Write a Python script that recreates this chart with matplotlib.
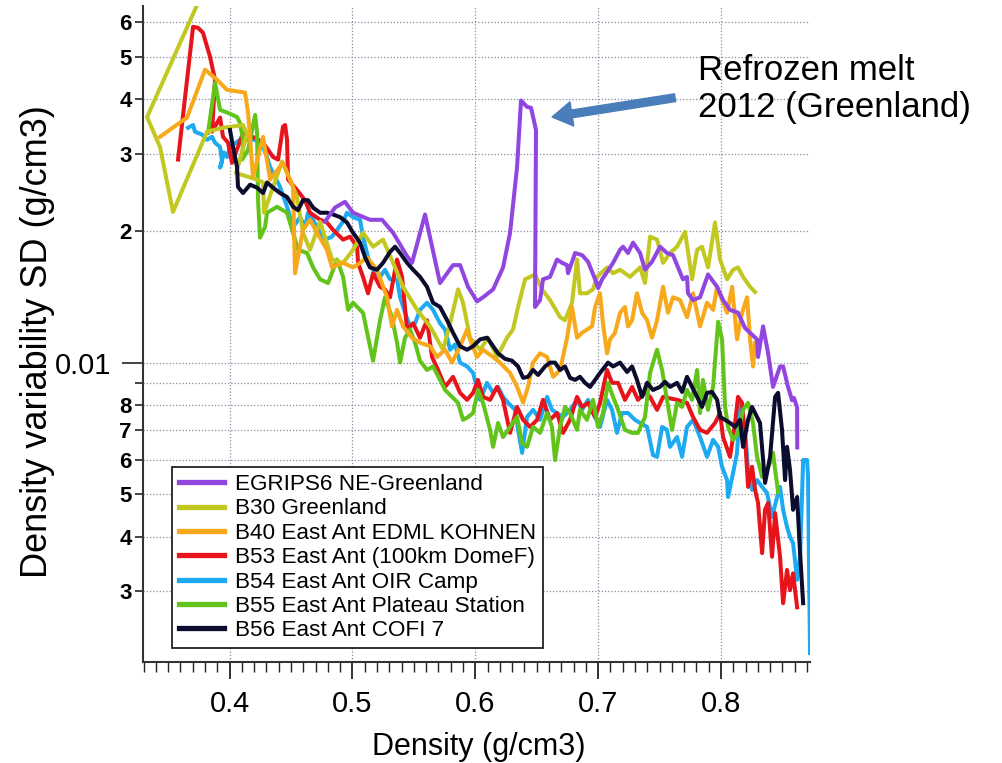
import math
import matplotlib
matplotlib.use("Agg")
from matplotlib import pyplot as plt
from matplotlib.ticker import FixedLocator, FuncFormatter, MultipleLocator

plt.rcParams['font.family'] = ['Liberation Sans', 'DejaVu Sans']

# density (g/cm3) and density variability SD (g/cm3) for each core
egrips_rho = [0.4777, 0.4858, 0.4939, 0.5005, 0.5143, 0.5241, 0.5331, 0.5445, 0.5485, 0.5591,
              0.5713, 0.5819, 0.5876, 0.5941, 0.6014, 0.6063, 0.6145, 0.6226, 0.6283, 0.6340,
              0.6372, 0.6421, 0.6454, 0.6494, 0.6486, 0.6527, 0.6551, 0.6608, 0.6665, 0.6706,
              0.6747, 0.6755, 0.6812, 0.6869, 0.6918, 0.6975, 0.7000, 0.7032, 0.7072, 0.7121,
              0.7178, 0.7202, 0.7243, 0.7284, 0.7341, 0.7381, 0.7438, 0.7503, 0.7560, 0.7609,
              0.7690, 0.7723, 0.7731, 0.7772, 0.7829, 0.7894, 0.7968, 0.8016, 0.8073, 0.8138,
              0.8195, 0.8236, 0.8293, 0.8301, 0.8342, 0.8383, 0.8423, 0.8480, 0.8505, 0.8545,
              0.8578, 0.8594, 0.8619, 0.8620]
egrips_sd = [0.0210, 0.0226, 0.0233, 0.0220, 0.0212, 0.0212, 0.0198, 0.0175, 0.0169, 0.0218,
             0.0152, 0.0167, 0.0167, 0.0149, 0.0138, 0.0141, 0.0147, 0.0165, 0.0198, 0.0280,
             0.0397, 0.0384, 0.0382, 0.0340, 0.0134, 0.0139, 0.0155, 0.0157, 0.0172, 0.0169,
             0.0167, 0.0160, 0.0178, 0.0176, 0.0170, 0.0155, 0.0148, 0.0155, 0.0161, 0.0169,
             0.0181, 0.0184, 0.0178, 0.0188, 0.0178, 0.0163, 0.0170, 0.0184, 0.0178, 0.0176,
             0.0155, 0.0157, 0.0144, 0.0139, 0.0141, 0.0159, 0.0149, 0.0139, 0.0132, 0.0130,
             0.0120, 0.0117, 0.0113, 0.0103, 0.0121, 0.0105, 0.0088, 0.0098, 0.0098, 0.0088,
             0.0082, 0.0083, 0.0079, 0.0064]

b30_rho = [0.3760, 0.3329, 0.3434, 0.3540, 0.3817, 0.3947, 0.4110, 0.4142, 0.4053, 0.4224,
           0.4273, 0.4281, 0.4427, 0.4492, 0.4549, 0.4598, 0.4655, 0.4737, 0.4834, 0.4924,
           0.5005, 0.5086, 0.5168, 0.5249, 0.5331, 0.5412, 0.5526, 0.5632, 0.5738, 0.5795,
           0.5860, 0.5900, 0.5957, 0.6039, 0.6104, 0.6177, 0.6258, 0.6307, 0.6348, 0.6405,
           0.6486, 0.6543, 0.6608, 0.6690, 0.6730, 0.6787, 0.6828, 0.6852, 0.6909, 0.6958,
           0.6991, 0.7072, 0.7121, 0.7178, 0.7259, 0.7341, 0.7381, 0.7422, 0.7479, 0.7528,
           0.7585, 0.7642, 0.7707, 0.7764, 0.7805, 0.7845, 0.7894, 0.7951, 0.7992, 0.8049,
           0.8098, 0.8138, 0.8179, 0.8236, 0.8277]
b30_sd = [0.068, 0.0364, 0.0311, 0.0221, 0.0337, 0.0344, 0.0349, 0.0332, 0.0271, 0.0262,
          0.0258, 0.0220, 0.0288, 0.0262, 0.0239, 0.0198, 0.0181, 0.0210, 0.0172, 0.0169,
          0.0181, 0.0198, 0.0184, 0.0191, 0.0169, 0.0149, 0.0132, 0.0121, 0.0107, 0.0123,
          0.0147, 0.0137, 0.0114, 0.0107, 0.0114, 0.0103, 0.0114, 0.0119, 0.0134, 0.0155,
          0.0159, 0.0147, 0.0139, 0.0127, 0.0125, 0.0137, 0.0172, 0.0144, 0.0144, 0.0147,
          0.0157, 0.0165, 0.0160, 0.0163, 0.0157, 0.0165, 0.0152, 0.0194, 0.0191, 0.0169,
          0.0178, 0.0184, 0.0199, 0.0155, 0.0181, 0.0184, 0.0165, 0.0209, 0.0172, 0.0155,
          0.0163, 0.0165, 0.0157, 0.0149, 0.0145]

b40_rho = [0.3434, 0.3654, 0.3801, 0.3898, 0.3980, 0.4126, 0.4151, 0.4191, 0.4273, 0.4330,
           0.4435, 0.4517, 0.4533, 0.4598, 0.4655, 0.4712, 0.4793, 0.4834, 0.4924, 0.5005,
           0.5062, 0.5119, 0.5200, 0.5282, 0.5322, 0.5363, 0.5412, 0.5485, 0.5550, 0.5632,
           0.5689, 0.5754, 0.5811, 0.5876, 0.5933, 0.5957, 0.6014, 0.6063, 0.6145, 0.6201,
           0.6283, 0.6340, 0.6389, 0.6429, 0.6470, 0.6527, 0.6584, 0.6633, 0.6690, 0.6747,
           0.6787, 0.6828, 0.6869, 0.6909, 0.6950, 0.6975, 0.7015, 0.7039, 0.7072, 0.7097,
           0.7137, 0.7178, 0.7218, 0.7243, 0.7276, 0.7316, 0.7357, 0.7398, 0.7438, 0.7479,
           0.7528, 0.7568, 0.7609, 0.7666, 0.7723, 0.7772, 0.7829, 0.7886, 0.7935, 0.7968,
           0.8008, 0.8049, 0.8090, 0.8130, 0.8171, 0.8212, 0.8236, 0.8260, 0.8277]
b40_sd = [0.0328, 0.0363, 0.0467, 0.0443, 0.0420, 0.0414, 0.0372, 0.0266, 0.0328, 0.0262,
          0.0286, 0.0252, 0.0160, 0.0201, 0.0212, 0.0198, 0.0181, 0.0165, 0.0169, 0.0165,
          0.0169, 0.0174, 0.0163, 0.0141, 0.0121, 0.0132, 0.0121, 0.0114, 0.0111, 0.0109,
          0.0103, 0.0107, 0.0100, 0.0109, 0.0119, 0.0113, 0.0103, 0.0107, 0.0103, 0.0100,
          0.00947, 0.0088, 0.0081, 0.0088, 0.0100, 0.0105, 0.0103, 0.00928, 0.00962, 0.0114,
          0.0134, 0.0114, 0.0117, 0.0119, 0.0121, 0.0134, 0.0144, 0.0123, 0.0105, 0.0113,
          0.0117, 0.0130, 0.0134, 0.0121, 0.0125, 0.0144, 0.0130, 0.0125, 0.0114, 0.0125,
          0.0149, 0.0130, 0.0141, 0.0139, 0.0127, 0.0144, 0.0121, 0.0137, 0.0132, 0.0149,
          0.0139, 0.0130, 0.0149, 0.0113, 0.0130, 0.0141, 0.0113, 0.0098, 0.0111]

b53_rho = [0.3581, 0.3703, 0.3744, 0.3784, 0.3841, 0.3882, 0.3858, 0.3923, 0.3947, 0.3988,
           0.4020, 0.4110, 0.4208, 0.4273, 0.4354, 0.4395, 0.4435, 0.4452, 0.4468, 0.4476,
           0.4549, 0.4614, 0.4655, 0.4737, 0.4793, 0.4842, 0.4924, 0.4981, 0.5038, 0.5046,
           0.5086, 0.5127, 0.5168, 0.5225, 0.5265, 0.5306, 0.5363, 0.5404, 0.5445, 0.5494,
           0.5550, 0.5607, 0.5648, 0.5697, 0.5754, 0.5819, 0.5876, 0.5933, 0.5982, 0.6022,
           0.6063, 0.6120, 0.6177, 0.6226, 0.6283, 0.6340, 0.6389, 0.6446, 0.6503, 0.6551,
           0.6608, 0.6665, 0.6714, 0.6771, 0.6828, 0.6869, 0.6918, 0.6975, 0.7015, 0.7072,
           0.7113, 0.7162, 0.7218, 0.7276, 0.7324, 0.7381, 0.7422, 0.7479, 0.7528, 0.7642,
           0.7723, 0.7772, 0.7829, 0.7886, 0.7951, 0.7992, 0.8016, 0.8073, 0.8114, 0.8138,
           0.8171, 0.8195, 0.8220, 0.8252, 0.8277, 0.8301, 0.8334, 0.8358, 0.8383, 0.8415,
           0.8440, 0.8480, 0.8505, 0.8537, 0.8561, 0.8586, 0.8619]
b53_sd = [0.0291, 0.0585, 0.0582, 0.0567, 0.0500, 0.0443, 0.0337, 0.0363, 0.0328, 0.0318,
          0.0286, 0.0335, 0.0326, 0.0318, 0.0295, 0.0291, 0.0346, 0.0349, 0.0323, 0.0262,
          0.0248, 0.0235, 0.0220, 0.0212, 0.0209, 0.0201, 0.0191, 0.0194, 0.0184, 0.0169,
          0.0157, 0.0144, 0.0160, 0.0149, 0.0147, 0.0141, 0.0172, 0.0157, 0.0119, 0.0123,
          0.0114, 0.0125, 0.0103, 0.00962, 0.0088, 0.00928, 0.00853, 0.00822, 0.00853, 0.00913,
          0.00835, 0.00822, 0.0088, 0.00822, 0.00691, 0.00792, 0.0074, 0.00713, 0.0074, 0.00822,
          0.0074, 0.00767, 0.00691, 0.0074, 0.00835, 0.00792, 0.00809, 0.00751, 0.00809, 0.00962,
          0.00899, 0.00899, 0.00822, 0.0088, 0.00822, 0.00853, 0.00835, 0.0078, 0.00835, 0.00822,
          0.00809, 0.00751, 0.00702, 0.00691, 0.00728, 0.00767, 0.00676, 0.00609, 0.00728, 0.00835,
          0.00809, 0.00676, 0.0052, 0.00578, 0.00512, 0.00478, 0.00367, 0.00461, 0.00478, 0.0036,
          0.00453, 0.0036, 0.00282, 0.00336, 0.00302, 0.0033, 0.00276]

b54_rho = [0.3662, 0.3703, 0.3719, 0.3776, 0.3817, 0.3858, 0.3882, 0.3923, 0.3939, 0.3923,
           0.3955, 0.3980, 0.4004, 0.4085, 0.4142, 0.4208, 0.4273, 0.4305, 0.4330, 0.4411,
           0.4468, 0.4517, 0.4574, 0.4614, 0.4639, 0.4680, 0.4737, 0.4777, 0.4834, 0.4875,
           0.4924, 0.4956, 0.5005, 0.5062, 0.5086, 0.5127, 0.5168, 0.5225, 0.5265, 0.5306,
           0.5363, 0.5388, 0.5428, 0.5469, 0.5510, 0.5550, 0.5607, 0.5656, 0.5713, 0.5754,
           0.5795, 0.5835, 0.5876, 0.5933, 0.5982, 0.6039, 0.6096, 0.6145, 0.6185, 0.6226,
           0.6267, 0.6324, 0.6348, 0.6381, 0.6421, 0.6470, 0.6527, 0.6584, 0.6624, 0.6665,
           0.6714, 0.6771, 0.6828, 0.6869, 0.6918, 0.6958, 0.7015, 0.7072, 0.7113, 0.7153,
           0.7194, 0.7243, 0.7300, 0.7341, 0.7398, 0.7446, 0.7479, 0.7520, 0.7560, 0.7585,
           0.7642, 0.7683, 0.7723, 0.7772, 0.7829, 0.7886, 0.7935, 0.7976, 0.8008, 0.8049,
           0.8057, 0.8098, 0.8130, 0.8154, 0.8195, 0.8220, 0.8252, 0.8293, 0.8334, 0.8374,
           0.8415, 0.8456, 0.8480, 0.8505, 0.8537, 0.8561, 0.8586, 0.8619, 0.8643, 0.8668,
           0.8700, 0.8708, 0.8724]
b54_sd = [0.0344, 0.0349, 0.0337, 0.0332, 0.0323, 0.0328, 0.0318, 0.0311, 0.0288, 0.0279,
          0.0302, 0.0295, 0.0311, 0.0323, 0.0323, 0.0323, 0.0311, 0.0295, 0.0280, 0.0252,
          0.0227, 0.0204, 0.0215, 0.0204, 0.0220, 0.0212, 0.0198, 0.0191, 0.0194, 0.0201,
          0.0210, 0.0220, 0.0215, 0.0212, 0.0194, 0.0174, 0.0163, 0.0157, 0.0163, 0.0155,
          0.0155, 0.0141, 0.0130, 0.0121, 0.0123, 0.0132, 0.0137, 0.0132, 0.0123, 0.0119,
          0.0107, 0.0110, 0.0100, 0.0098, 0.00947, 0.00822, 0.00899, 0.00853, 0.0088, 0.00835,
          0.00809, 0.0078, 0.00702, 0.00622, 0.00751, 0.0078, 0.0074, 0.00835, 0.0078, 0.00767,
          0.00751, 0.0078, 0.00822, 0.0078, 0.00822, 0.00767, 0.00713, 0.00822, 0.0078, 0.00691,
          0.00767, 0.00767, 0.0074, 0.00728, 0.00713, 0.00615, 0.00609, 0.00713, 0.00702, 0.00642,
          0.00676, 0.00609, 0.00713, 0.0074, 0.00676, 0.00609, 0.00666, 0.00642, 0.00578, 0.00539,
          0.00493, 0.0056, 0.00622, 0.00809, 0.00702, 0.00569, 0.00512, 0.00539, 0.0052, 0.00504,
          0.00444, 0.00493, 0.0052, 0.00461, 0.00421, 0.0040, 0.00387, 0.00319, 0.0036, 0.00599,
          0.00599, 0.00548, 0.00217]

b55_rho = [0.3825, 0.3882, 0.3923, 0.3988, 0.4061, 0.4085, 0.4110, 0.4102, 0.4151, 0.4208,
           0.4224, 0.4232, 0.4248, 0.4289, 0.4305, 0.4387, 0.4468, 0.4517, 0.4557, 0.4631,
           0.4680, 0.4737, 0.4802, 0.4875, 0.4924, 0.4965, 0.5005, 0.5086, 0.5168, 0.5225,
           0.5265, 0.5322, 0.5363, 0.5388, 0.5428, 0.5469, 0.5510, 0.5550, 0.5607, 0.5656,
           0.5713, 0.5754, 0.5811, 0.5860, 0.5900, 0.5941, 0.5982, 0.6022, 0.6063, 0.6120,
           0.6145, 0.6185, 0.6226, 0.6283, 0.6340, 0.6381, 0.6421, 0.6470, 0.6527, 0.6584,
           0.6624, 0.6649, 0.6690, 0.6730, 0.6771, 0.6828, 0.6852, 0.6909, 0.6958, 0.6999,
           0.7039, 0.7080, 0.7121, 0.7162, 0.7218, 0.7276, 0.7324, 0.7381, 0.7422, 0.7479,
           0.7520, 0.7560, 0.7601, 0.7642, 0.7683, 0.7723, 0.7764, 0.7805, 0.7829, 0.7853,
           0.7894, 0.7935, 0.7976, 0.8008, 0.8033, 0.8057, 0.8098, 0.8138, 0.8179, 0.8220,
           0.8260, 0.8293, 0.8334, 0.8374, 0.8399, 0.8423, 0.8440, 0.8464]
b55_sd = [0.0335, 0.0436, 0.0378, 0.0372, 0.0364, 0.0353, 0.0323, 0.0291, 0.0306, 0.0368,
          0.0335, 0.0235, 0.0193, 0.0204, 0.0220, 0.0227, 0.0220, 0.0198, 0.0181, 0.0178,
          0.0165, 0.0155, 0.0152, 0.0172, 0.0157, 0.0132, 0.0137, 0.0130, 0.0101, 0.0125,
          0.0141, 0.0127, 0.0111, 0.0100, 0.0114, 0.0119, 0.0111, 0.0101, 0.00962, 0.0098,
          0.00913, 0.00866, 0.00835, 0.00809, 0.0074, 0.00751, 0.00767, 0.00866, 0.00809, 0.00702,
          0.00642, 0.00728, 0.00676, 0.00713, 0.00751, 0.00655, 0.00642, 0.00713, 0.00691, 0.00767,
          0.00713, 0.00599, 0.00713, 0.00792, 0.00767, 0.00702, 0.0078, 0.0074, 0.00822, 0.00713,
          0.00767, 0.00899, 0.00835, 0.0078, 0.00702, 0.00691, 0.00691, 0.00751, 0.00947, 0.0107,
          0.00962, 0.00822, 0.00702, 0.00809, 0.00792, 0.00866, 0.00822, 0.00962, 0.00767, 0.00913,
          0.0078, 0.0088, 0.0124, 0.0113, 0.00792, 0.00713, 0.00666, 0.00691, 0.0078, 0.00809,
          0.00728, 0.00609, 0.00548, 0.00569, 0.0059, 0.00622, 0.00569, 0.00506]

b56_rho = [0.4004, 0.4028, 0.4061, 0.4069, 0.4110, 0.4167, 0.4224, 0.4273, 0.4305, 0.4354,
           0.4411, 0.4468, 0.4517, 0.4557, 0.4598, 0.4639, 0.4680, 0.4737, 0.4793, 0.4842,
           0.4899, 0.4956, 0.5005, 0.5062, 0.5103, 0.5143, 0.5200, 0.5249, 0.5306, 0.5347,
           0.5388, 0.5445, 0.5494, 0.5550, 0.5607, 0.5656, 0.5713, 0.5770, 0.5819, 0.5876,
           0.5933, 0.5982, 0.6039, 0.6096, 0.6145, 0.6185, 0.6242, 0.6299, 0.6348, 0.6389,
           0.6429, 0.6470, 0.6511, 0.6568, 0.6608, 0.6649, 0.6690, 0.6730, 0.6771, 0.6812,
           0.6852, 0.6893, 0.6934, 0.6975, 0.7015, 0.7056, 0.7080, 0.7121, 0.7178, 0.7235,
           0.7276, 0.7316, 0.7357, 0.7398, 0.7446, 0.7503, 0.7544, 0.7585, 0.7642, 0.7683,
           0.7723, 0.7764, 0.7805, 0.7845, 0.7886, 0.7927, 0.7968, 0.7992, 0.8033, 0.8073,
           0.8114, 0.8154, 0.8179, 0.8220, 0.8252, 0.8293, 0.8317, 0.8358, 0.8399, 0.8440,
           0.8464, 0.8496, 0.8521, 0.8537, 0.8561, 0.8586, 0.8619, 0.8643, 0.8668]
b56_sd = [0.0340, 0.0311, 0.0280, 0.0252, 0.0244, 0.0255, 0.0251, 0.0244, 0.0258, 0.0251,
          0.0244, 0.0239, 0.0227, 0.0223, 0.0235, 0.0235, 0.0226, 0.0220, 0.0220, 0.0218,
          0.0215, 0.0209, 0.0198, 0.0188, 0.0174, 0.0165, 0.0163, 0.0169, 0.0179, 0.0184,
          0.0178, 0.0169, 0.0163, 0.0157, 0.0149, 0.0137, 0.0134, 0.0125, 0.0117, 0.0109,
          0.0107, 0.0109, 0.0113, 0.0114, 0.0109, 0.0105, 0.0102, 0.0101, 0.0098, 0.00923,
          0.00928, 0.00962, 0.00937, 0.0098, 0.0100, 0.0100, 0.00962, 0.0098, 0.00923, 0.00913,
          0.00928, 0.00899, 0.0088, 0.00913, 0.00947, 0.0098, 0.0100, 0.0098, 0.0100, 0.00952,
          0.0098, 0.00913, 0.00835, 0.00899, 0.00866, 0.0088, 0.00904, 0.0088, 0.00899, 0.00857,
          0.00928, 0.0088, 0.00835, 0.00792, 0.00853, 0.00857, 0.00822, 0.00751, 0.0074, 0.00728,
          0.00713, 0.0074, 0.00642, 0.0074, 0.00792, 0.00751, 0.00728, 0.00531, 0.00609, 0.00835,
          0.00853, 0.00702, 0.00539, 0.00642, 0.00569, 0.00461, 0.00493, 0.00367, 0.00282]

labels = ["EGRIPS6 NE-Greenland", "B30 Greenland", "B40 East Ant EDML KOHNEN",
          "B53 East Ant (100km DomeF)", "B54 East Ant OIR Camp",
          "B55 East Ant Plateau Station", "B56 East Ant COFI 7"]
colors = ["#9146e0", "#c2c821", "#f7a81b", "#e8141c", "#1eaaf0", "#62c41a", "#0c0c2e"]
layer = [9, 6, 7, 4, 3, 5, 8]

cores = [(egrips_rho, egrips_sd), (b30_rho, b30_sd), (b40_rho, b40_sd), (b53_rho, b53_sd),
         (b54_rho, b54_sd), (b55_rho, b55_sd), (b56_rho, b56_sd)]

fig = plt.figure(figsize=(10.03, 7.63), dpi=100)
ax = fig.add_axes([0.1426, 0.1324, 0.665, 0.8598])

for (rho, sd), lab, col, z in zip(cores, labels, colors, layer):
    ax.plot(rho, sd, color=col, lw=2.9, label=lab, zorder=z)

ax.set_yscale('log')
ax.set_xlim(0.3296, 0.8724)
ax.set_ylim(0.00207, 0.0653)

# x axis: labelled every 0.1, small ticks every 0.01
ax.xaxis.set_major_locator(MultipleLocator(0.1))
ax.xaxis.set_minor_locator(MultipleLocator(0.01))
ax.xaxis.set_major_formatter(FuncFormatter(lambda v, p: f"{v:.1f}"))

# y axis: only 0.01 gets a full label, the rest show their leading digit
ax.yaxis.set_major_locator(FixedLocator([0.01]))
ax.yaxis.set_major_formatter(FuncFormatter(lambda v, p: "0.01"))
minor_y = [0.003, 0.004, 0.005, 0.006, 0.007, 0.008, 0.009,
           0.02, 0.03, 0.04, 0.05, 0.06]
ax.yaxis.set_minor_locator(FixedLocator(minor_y))

def lead_digit(v, p):
    d = round(v / 10 ** math.floor(math.log10(v) + 1e-9))
    return "" if d == 9 else str(d)

ax.yaxis.set_minor_formatter(FuncFormatter(lead_digit))

ax.tick_params(axis='x', which='major', direction='out', length=12, width=1.3,
               labelsize=21, pad=8, color='#222222')
ax.tick_params(axis='x', which='minor', direction='out', length=7, width=1.0,
               color='#222222')
ax.tick_params(axis='y', which='major', direction='out', length=15, width=1.2,
               labelsize=21, pad=8, color='#222222')
ax.tick_params(axis='y', which='minor', direction='out', length=6, width=1.2,
               labelsize=16, pad=2, color='#222222')
for t in ax.get_yticklabels(minor=True):
    t.set_fontweight('bold')

ax.grid(True, which='both', axis='y', ls=(0, (1, 1.6)), lw=0.9, color='#8a8aa4')
ax.grid(True, which='major', axis='x', ls=(0, (1, 1.6)), lw=0.9, color='#8a8aa4')
ax.set_axisbelow(True)

for side in ['top', 'right']:
    ax.spines[side].set_visible(False)
for side in ['left', 'bottom']:
    ax.spines[side].set_linewidth(1.5)
    ax.spines[side].set_color('#333333')

ax.set_xlabel("Density (g/cm3)", fontsize=22)
ax.xaxis.set_label_coords(0.504, -0.107)
ax.xaxis.label.set_va('top')
fig.text(0.037, 0.552, "Density variability SD (g/cm3)", rotation=90,
         ha='center', va='center', fontsize=26)

leg = ax.legend(loc='lower left', bbox_to_anchor=(0.0435, 0.0213), borderaxespad=0,
                fontsize=16.2, handlelength=2.0, handletextpad=0.5, labelspacing=0.15,
                borderpad=0.3, fancybox=False, framealpha=1, edgecolor='#222222')
leg.get_frame().set_linewidth(1.3)
for h in leg.get_lines():
    h.set_linewidth(3.8)

# melt layer note
fig.text(0.696, 0.9286, "Refrozen melt\n2012 (Greenland)", fontsize=25,
         ha='left', va='top', linespacing=1.12)
ax.annotate("", xy=(0.6625, 0.0364), xytext=(0.7626, 0.0403),
            arrowprops=dict(arrowstyle="simple,head_width=1.1,head_length=0.9,tail_width=0.35",
                            color='#4a7ebb', mutation_scale=16, shrinkA=0, shrinkB=0),
            zorder=12)

fig.savefig("out.png", dpi=100)
